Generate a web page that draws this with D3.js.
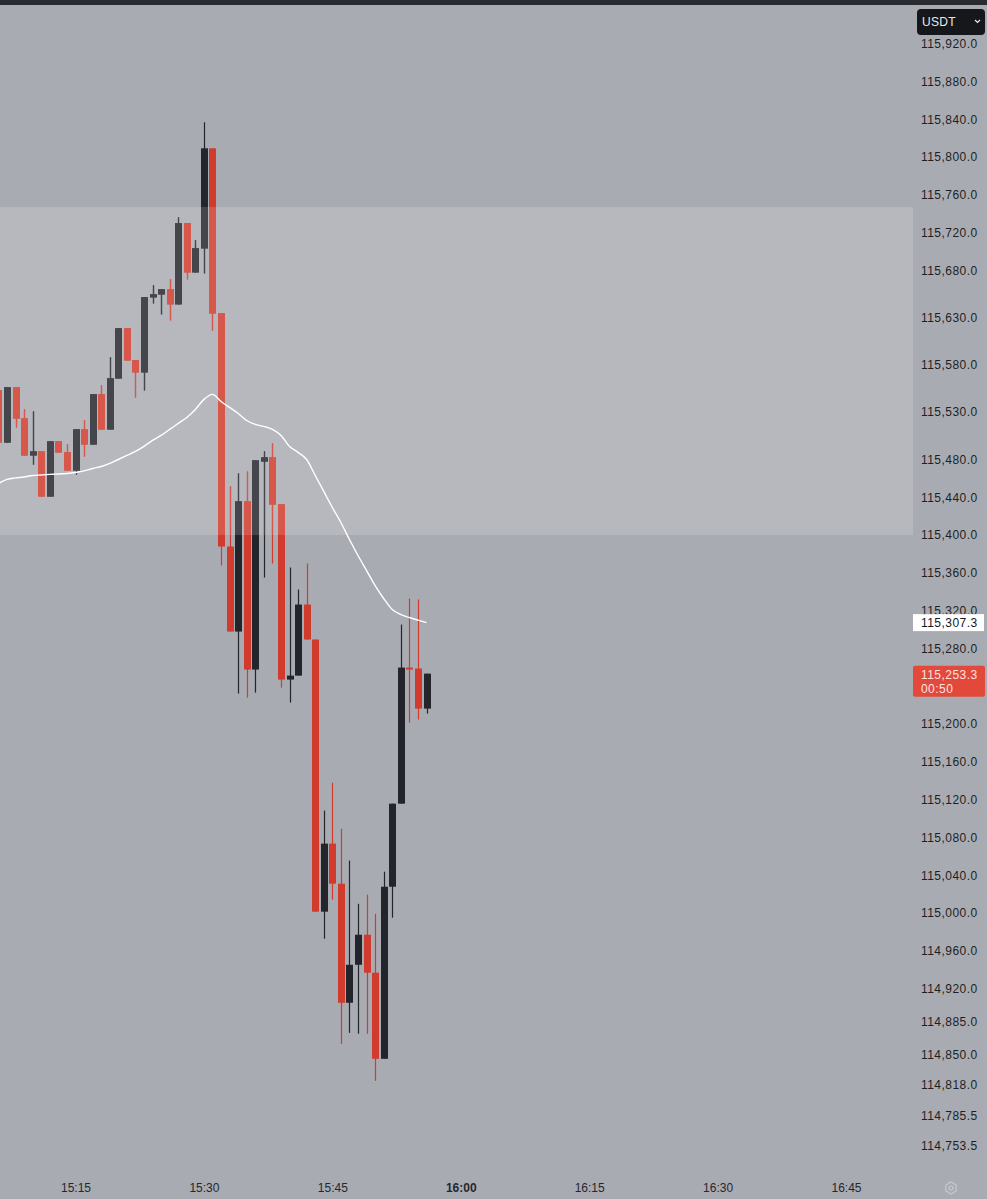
<!DOCTYPE html>
<html><head><meta charset="utf-8">
<script src="https://cdn.jsdelivr.net/npm/d3@7"></script>
<style>
html,body{margin:0;padding:0;background:#a9abb2;}
svg{display:block;}
text{font-family:"Liberation Sans",Arial,sans-serif;}
</style></head>
<body>
<svg id="chart" width="987" height="1199"></svg>
<script>
// ---- data ----
const minutes = ["15:06","15:07","15:08","15:09","15:10","15:11","15:12","15:13","15:14","15:15",
"15:16","15:17","15:18","15:19","15:20","15:21","15:22","15:23","15:24","15:25",
"15:26","15:27","15:28","15:29","15:30","15:31","15:32","15:33","15:34","15:35",
"15:36","15:37","15:38","15:39","15:40","15:41","15:42","15:43","15:44","15:45",
"15:46","15:47","15:48","15:49","15:50","15:51","15:52","15:53","15:54","15:55","15:56"];
const opens = [115553.0,115497.9,115556.2,115523.3,115484.2,115488.4,115440.8,115499.0,115487.4,115468.3,
115511.7,115495.8,115548.8,115511.7,115565.7,115618.6,115584.8,115572.1,115651.5,115654.6,
115659.9,115644.1,115729.8,115677.9,115703.3,115809.2,115634.5,115387.8,115297.8,115435.5,
115257.6,115477.8,115482.1,115432.3,115247.0,115251.2,115326.4,115289.4,115001.4,115073.4,
115031.0,114905.0,114945.2,114977.0,114936.8,114845.7,115027.8,115115.7,115259.7,115258.7,115216.3];
const highs = [115553.0,115556.2,115556.2,115532.9,115530.8,115488.4,115499.0,115499.0,115495.8,115511.7,
115521.2,115548.8,115558.3,115587.9,115618.6,115618.6,115584.8,115651.5,115664.2,115659.9,
115670.5,115736.0,115729.8,115711.8,115836.8,115809.2,115634.5,115451.4,115465.1,115467.2,
115478.9,115488.4,115496.9,115432.3,115365.6,115342.3,115369.8,115289.4,115108.3,115137.9,
115089.2,115055.4,115009.8,115019.4,114999.2,115043.7,115115.7,115305.2,115332.8,115331.7,115253.3];
const lows = [115497.9,115497.9,115513.8,115484.2,115474.6,115440.8,115440.8,115487.4,115468.3,115464.1,
115483.1,115495.8,115511.7,115511.7,115565.7,115584.8,115545.6,115553.0,115645.1,115633.5,
115627.1,115644.1,115670.5,115677.9,115676.9,115616.5,115367.7,115297.8,115232.2,115227.9,
115233.2,115355.0,115369.8,115238.5,115222.7,115251.2,115289.4,115001.4,114972.8,115014.1,
114861.6,114873.2,114872.2,114872.2,114822.4,114845.7,114995.0,115115.7,115201.5,115204.7,115211.0];
const closes = [115497.9,115556.2,115523.3,115484.2,115488.4,115440.8,115499.0,115487.4,115468.3,115511.7,
115495.8,115548.8,115511.7,115565.7,115618.6,115584.8,115572.1,115651.5,115654.6,115659.9,
115644.1,115729.8,115677.9,115703.3,115809.2,115634.5,115387.8,115297.8,115435.5,115257.6,
115478.9,115482.1,115432.3,115247.0,115251.2,115326.4,115289.4,115001.4,115073.4,115031.0,
114905.0,114945.2,114977.0,114936.8,114845.7,115027.8,115115.7,115259.7,115257.6,115216.3,115253.3];
const maValues = [115454.5,115458.8,115460.4,115461.4,115463.0,115463.5,115464.1,115464.6,115465.1,115466.2,
115467.8,115470.4,115472.5,115475.7,115479.9,115484.2,115488.4,115493.7,115500.1,115505.4,
115511.7,115518.1,115524.4,115532.9,115543.5,115548.8,115541.3,115535.0,115528.6,115521.2,
115517.0,115514.9,115511.7,115505.4,115493.7,115487.4,115479.9,115463.0,115446.1,115429.1,
115413.2,115395.2,115378.3,115362.4,115346.5,115332.8,115321.1,115315.8,115312.7,115310.0,115307.3];
const zoneRange = [115400, 115747];
const priceTicks = [115920,115880,115840,115800,115760,115720,115680,115630,115580,115530,115480,115440,
115400,115360,115320,115280,115200,115160,115120,115080,115040,115000,114960,114920,114885,114850,
114818,114785.5,114753.5];
const timeTicks = ["15:15","15:30","15:45","16:00","16:15","16:30","16:45"];
const maLast = 115307.3;
const lastPrice = 115253.3;
const countdown = "00:50";
const currency = "USDT";

// ---- scales ----
const parse = d3.timeParse("%H:%M");
const fmtPrice = d3.format(",.1f");
const x = d3.scaleTime().domain([parse("15:15"), parse("16:45")]).range([75.5, 846]);
const y = d3.scaleLinear().domain([115000, 115400]).range([913, 535]);
const plotRight = 913;
const bodyW = 7;

const candles = minutes.map((m,i)=>({t:parse(m),o:opens[i],h:highs[i],l:lows[i],c:closes[i]}));

const svg = d3.select("#chart");
svg.append("rect").attr("x",0).attr("y",0).attr("width",987).attr("height",1199).attr("fill","#a9abb2");
svg.append("rect").attr("x",0).attr("y",0).attr("width",987).attr("height",5).attr("fill","#2a2b30");

const defs = svg.append("defs");
defs.append("clipPath").attr("id","pc").append("rect").attr("x",0).attr("y",5).attr("width",plotRight).attr("height",1165);
defs.append("clipPath").attr("id","zc").append("rect").attr("x",0).attr("width",plotRight)
  .attr("y",y(zoneRange[1])).attr("height",y(zoneRange[0])-y(zoneRange[1]));

const cg = svg.append("g").attr("clip-path","url(#pc)");

// zone background (solid, lighter)
cg.append("rect").attr("x",0).attr("width",plotRight)
  .attr("y",y(zoneRange[1])).attr("height",y(zoneRange[0])-y(zoneRange[1]))
  .attr("fill","#b6b8be");

function drawCandles(g, red, dark){
  g.selectAll("line.wick").data(candles).join("line").attr("class","wick")
    .attr("x1",d=>Math.round(x(d.t))+0.5).attr("x2",d=>Math.round(x(d.t))+0.5)
    .attr("y1",d=>y(d.h)).attr("y2",d=>y(d.l))
    .attr("stroke",d=>d.c>=d.o?dark:red).attr("stroke-width",1.2);
  g.selectAll("rect.body").data(candles).join("rect").attr("class","body")
    .attr("x",d=>Math.round(x(d.t))+0.5-bodyW/2).attr("width",bodyW)
    .attr("y",d=>y(Math.max(d.o,d.c)))
    .attr("height",d=>Math.max(1.5, Math.abs(y(d.o)-y(d.c))))
    .attr("fill",d=>d.c>=d.o?dark:red);
}
// normal candles
drawCandles(cg.append("g"), "#d13b2e", "#23252b");
// candles inside the highlighted zone appear lightened
drawCandles(cg.append("g").attr("clip-path","url(#zc)"), "#d8574b", "#44464c");

// moving average line
const line = d3.line().x((d,i)=>x(parse(minutes[i]))).y(d=>y(d)).curve(d3.curveMonotoneX);
cg.append("path").datum(maValues).attr("d",line).attr("fill","none")
  .attr("stroke","#ffffff").attr("stroke-width",1.4);

// ---- price axis ----
const yAxis = d3.axisRight(y).tickValues(priceTicks).tickSize(0).tickPadding(0).tickFormat(fmtPrice);
const ya = svg.append("g").attr("transform","translate(921,0)").call(yAxis);
ya.select(".domain").remove();
ya.selectAll("text").attr("font-size","12px").attr("fill","#1d1f24")
  .attr("letter-spacing","0.45px").attr("font-family","Liberation Sans, Arial, sans-serif");

// MA last value label
svg.append("rect").attr("x",913).attr("y",y(maLast)-8.5).attr("width",71).attr("height",17).attr("fill","#ffffff");
svg.append("text").attr("x",921).attr("y",y(maLast)).attr("dy","0.35em").attr("font-size","12px")
  .attr("letter-spacing","0.45px").attr("fill","#131722").text(fmtPrice(maLast));

// last price label
svg.append("rect").attr("x",913).attr("y",y(lastPrice)-8).attr("width",72).attr("height",31)
  .attr("rx",2).attr("fill","#e2493b");
svg.append("text").attr("x",921).attr("y",y(lastPrice)+1).attr("dy","0.35em").attr("font-size","12px")
  .attr("letter-spacing","0.45px").attr("fill","#fbe3e0").text(fmtPrice(lastPrice));
svg.append("text").attr("x",921).attr("y",y(lastPrice)+15).attr("dy","0.35em").attr("font-size","12px")
  .attr("letter-spacing","0.45px").attr("fill","#fbe3e0").text(countdown);

// currency box
svg.append("rect").attr("x",917).attr("y",9).attr("width",68).attr("height",26).attr("rx",4).attr("fill","#16171b");
svg.append("text").attr("x",922).attr("y",22).attr("dy","0.35em").attr("font-size","12px")
  .attr("fill","#e8e9ec").attr("letter-spacing","0.3px").text(currency);
svg.append("path").attr("d","M975,20 l2.5,2.5 l2.5,-2.5").attr("fill","none").attr("stroke","#e8e9ec").attr("stroke-width",1.2);

// ---- time axis ----
const xAxis = d3.axisBottom(x).tickValues(timeTicks.map(parse)).tickSize(0).tickPadding(0).tickFormat(d3.timeFormat("%H:%M"));
const xa = svg.append("g").attr("transform","translate(0,1183)").call(xAxis);
xa.select(".domain").remove();
xa.selectAll("text").attr("font-size","12px").attr("fill","#25272d")
  .attr("font-weight",d=>d3.timeFormat("%H:%M")(d)==="16:00"?"bold":"normal");

// settings gear
const gear = svg.append("g").attr("transform","translate(951,1188)");
gear.append("path").attr("d",d3.range(7).map(i=>{const a=Math.PI/3*i-Math.PI/2;return (i?"L":"M")+(6*Math.cos(a)).toFixed(2)+","+(6*Math.sin(a)).toFixed(2);}).join("")+"Z")
  .attr("fill","none").attr("stroke","#c9cbd1").attr("stroke-width",1.1);
gear.append("circle").attr("r",2).attr("fill","none").attr("stroke","#c9cbd1").attr("stroke-width",1.1);
</script>
</body></html>
